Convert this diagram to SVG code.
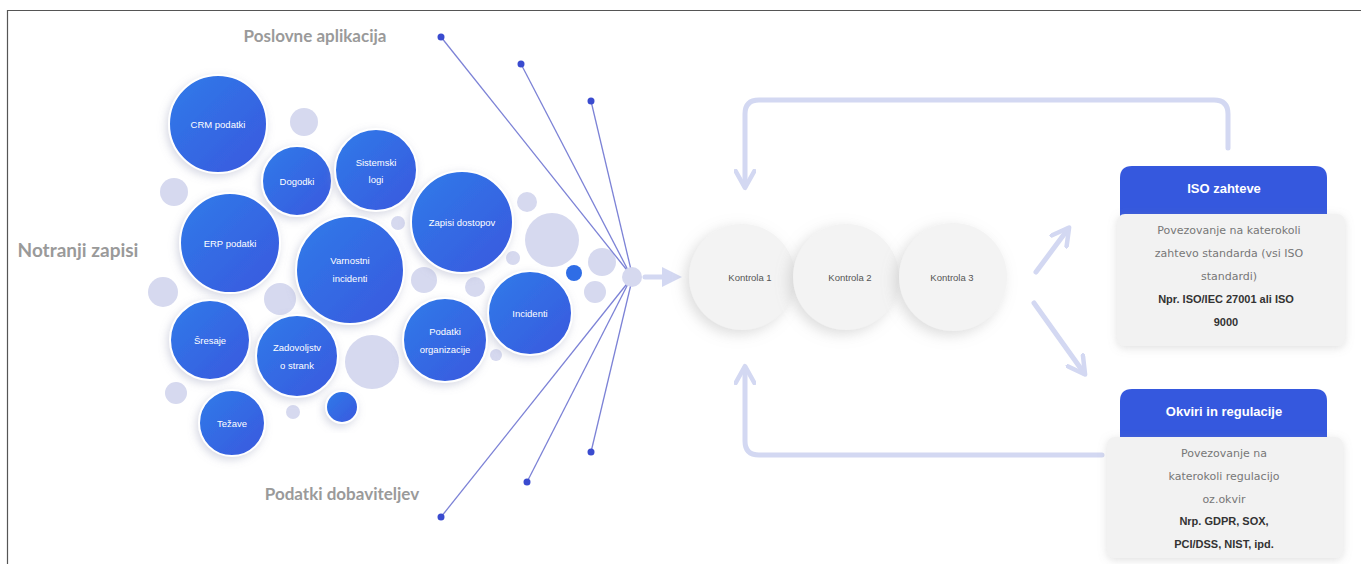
<svg xmlns="http://www.w3.org/2000/svg" width="1361" height="564" viewBox="0 0 1361 564">
<defs>
  <linearGradient id="blueG" x1="0" y1="0" x2="1" y2="1">
    <stop offset="0" stop-color="#2f7be9"/>
    <stop offset="1" stop-color="#3a58de"/>
  </linearGradient>
  <filter id="soft" x="-30%" y="-30%" width="160%" height="160%">
    <feDropShadow dx="-2" dy="3" stdDeviation="4" flood-color="#8a90b0" flood-opacity="0.35"/>
  </filter>
  <filter id="ctrlShadow" x="-40%" y="-40%" width="180%" height="180%">
    <feDropShadow dx="-4" dy="4" stdDeviation="7" flood-color="#9a9a9a" flood-opacity="0.35"/>
  </filter>
  <filter id="boxShadow" x="-20%" y="-20%" width="140%" height="140%">
    <feDropShadow dx="0" dy="2" stdDeviation="4" flood-color="#999" flood-opacity="0.3"/>
  </filter>
  <marker id="arrowL" viewBox="0 0 10 10" refX="5" refY="5" markerWidth="4" markerHeight="4" orient="auto">
    <path d="M0,0 L10,5 L0,10 z" fill="#d3d8f2"/>
  </marker>
  <marker id="chev" viewBox="0 0 12 12" refX="9" refY="6" markerWidth="4.5" markerHeight="4.5" orient="auto">
    <path d="M1,1 L10,6 L1,11" fill="none" stroke="#d3d8f2" stroke-width="2.4" stroke-linecap="round" stroke-linejoin="round"/>
  </marker>
  <style>
    .bub { fill: url(#blueG); stroke: #ffffff; stroke-width: 2; filter: url(#soft); }
    .lite { fill: #d6d9ef; }
    .btxt { font-family: "Liberation Sans", Arial, sans-serif; font-size: 9.5px; fill: #ffffff; text-anchor: middle; }
    .lbl { font-family: Lato, "Liberation Sans", sans-serif; font-weight: bold; fill: #9a9a9a; }
    .ray { stroke: #7c82d6; stroke-width: 1.3; fill: none; }
    .dot { fill: #3a4bcf; }
    .ctrl { fill: #f3f3f3; filter: url(#ctrlShadow); }
    .ctxt { font-family: "Liberation Sans", Arial, sans-serif; font-size: 9.5px; fill: #555; text-anchor: middle; }
    .flow { stroke: #d3d8f2; stroke-width: 5; fill: none; stroke-linecap: round; stroke-linejoin: round; }
    .hdr { fill: #3558de; }
    .body { fill: #f2f2f2; filter: url(#boxShadow); }
    .htxt { font-family: "Liberation Sans", Arial, sans-serif; font-weight: bold; font-size: 13px; fill: #ffffff; text-anchor: middle; }
    .ptxt { font-family: "DejaVu Sans", sans-serif; font-size: 11px; fill: #777777; text-anchor: middle; }
    .ptb { font-family: "Liberation Sans", Arial, sans-serif; font-weight: bold; font-size: 11px; fill: #333333; text-anchor: middle; }
  </style>
</defs>

<rect x="0" y="0" width="1361" height="564" fill="#ffffff"/>
<path d="M7.5,564 L7.5,10.5 L1361,10.5" fill="none" stroke="#555" stroke-width="1.2"/>

<!-- labels -->
<text class="lbl" x="315" y="42" font-size="17" text-anchor="middle">Poslovne aplikacija</text>
<text class="lbl" x="78" y="257" font-size="19" text-anchor="middle">Notranji zapisi</text>
<text class="lbl" x="342" y="500" font-size="17" text-anchor="middle">Podatki dobaviteljev</text>

<!-- light decorative circles -->
<g id="light-circles">
  <circle class="lite" cx="304" cy="122" r="14"/>
  <circle class="lite" cx="174" cy="192" r="14"/>
  <circle class="lite" cx="398" cy="223" r="7"/>
  <circle class="lite" cx="163" cy="292" r="15"/>
  <circle class="lite" cx="280" cy="299" r="16"/>
  <circle class="lite" cx="424" cy="280" r="13"/>
  <circle class="lite" cx="372" cy="362" r="27"/>
  <circle class="lite" cx="176" cy="393" r="11"/>
  <circle class="lite" cx="293" cy="412" r="7"/>
  <circle class="lite" cx="527" cy="202" r="10"/>
  <circle class="lite" cx="552" cy="240" r="27"/>
  <circle class="lite" cx="602" cy="262" r="14"/>
  <circle class="lite" cx="513" cy="258" r="7"/>
  <circle class="lite" cx="475" cy="287" r="10"/>
  <circle class="lite" cx="595" cy="292" r="11"/>
  <circle class="lite" cx="496" cy="355" r="6"/>
</g>

<!-- connectors -->
<g id="connectors">
  <line class="ray" x1="441" y1="37" x2="630" y2="274"/>
  <line class="ray" x1="521" y1="64" x2="630" y2="274"/>
  <line class="ray" x1="591" y1="101" x2="632" y2="274"/>
  <line class="ray" x1="441" y1="517" x2="630" y2="280"/>
  <line class="ray" x1="527" y1="482" x2="630" y2="280"/>
  <line class="ray" x1="591" y1="452" x2="632" y2="280"/>
  <circle class="dot" cx="441" cy="37" r="3.5"/>
  <circle class="dot" cx="521" cy="64" r="3.5"/>
  <circle class="dot" cx="591" cy="101" r="3.5"/>
  <circle class="dot" cx="441" cy="517" r="3.5"/>
  <circle class="dot" cx="527" cy="482" r="3.5"/>
  <circle class="dot" cx="591" cy="452" r="3.5"/>
  <circle class="lite" cx="632" cy="277" r="10"/>
  <line class="flow" x1="645" y1="277" x2="672" y2="277" marker-end="url(#arrowL)"/>
  <line class="flow" x1="1036" y1="272" x2="1068" y2="229" marker-end="url(#chev)"/>
  <line class="flow" x1="1034" y1="303" x2="1084" y2="373" marker-end="url(#chev)"/>
  <path class="flow" d="M1228,148 L1228,114 Q1228,100 1214,100 L759,100 Q745,100 745,114 L745,186" marker-end="url(#chev)"/>
  <path class="flow" d="M1102,455 L759,455 Q745,455 745,441 L745,368" marker-end="url(#chev)"/>
</g>

<!-- blue bubbles -->
<g id="crm"><circle class="bub" cx="218" cy="124" r="49"/><text class="btxt" x="218" y="128">CRM podatki</text></g>
<g id="dogodki"><circle class="bub" cx="297" cy="181" r="35"/><text class="btxt" x="297" y="185">Dogodki</text></g>
<g id="sistemski"><circle class="bub" cx="376" cy="170" r="41"/><text class="btxt" x="376" y="166">Sistemski</text><text class="btxt" x="376" y="183">logi</text></g>
<g id="erp"><circle class="bub" cx="230" cy="243" r="50"/><text class="btxt" x="230" y="247">ERP podatki</text></g>
<g id="varnostni"><circle class="bub" cx="350" cy="270" r="54"/><text class="btxt" x="350" y="264">Varnostni</text><text class="btxt" x="350" y="282">incidenti</text></g>
<g id="zapisi"><circle class="bub" cx="462" cy="222" r="51"/><text class="btxt" x="462" y="226">Zapisi dostopov</text></g>
<g id="incidenti"><circle class="bub" cx="530" cy="313" r="42"/><text class="btxt" x="530" y="317">Incidenti</text></g>
<g id="podatki-org"><circle class="bub" cx="445" cy="340" r="42"/><text class="btxt" x="445" y="335">Podatki</text><text class="btxt" x="445" y="353">organizacije</text></g>
<g id="sresaje"><circle class="bub" cx="210" cy="340" r="40"/><text class="btxt" x="210" y="344">Šresaje</text></g>
<g id="zadovoljstvo"><circle class="bub" cx="297" cy="356" r="41"/><text class="btxt" x="297" y="351">Zadovoljstv</text><text class="btxt" x="297" y="369">o strank</text></g>
<g id="tezave"><circle class="bub" cx="232" cy="423" r="33"/><text class="btxt" x="232" y="427">Težave</text></g>
<g id="small-blue"><circle class="bub" cx="342" cy="407" r="16"/></g>
<g id="tiny-blue"><circle cx="574" cy="273" r="8" fill="#2f6de6"/></g>

<!-- controls -->
<g id="kontrola1"><circle class="ctrl" cx="742" cy="277" r="53"/><text class="ctxt" x="750" y="281">Kontrola 1</text></g>
<g id="kontrola2"><circle class="ctrl" cx="846" cy="277" r="53"/><text class="ctxt" x="850" y="281">Kontrola 2</text></g>
<g id="kontrola3"><circle class="ctrl" cx="953" cy="277" r="54"/><text class="ctxt" x="952" y="281">Kontrola 3</text></g>

<!-- ISO box -->
<g id="iso">
  <path class="hdr" d="M1120,225 L1120,178 Q1120,166 1132,166 L1315,166 Q1327,166 1327,178 L1327,225 z"/>
  <text class="htxt" x="1224" y="193">ISO zahteve</text>
  <rect class="body" x="1117" y="214" width="228" height="132" rx="8"/>
  <text class="ptxt" x="1229" y="234">Povezovanje na katerokoli</text>
  <text class="ptxt" x="1229" y="257">zahtevo standarda (vsi ISO</text>
  <text class="ptxt" x="1229" y="280">standardi)</text>
  <text class="ptb" x="1226" y="303">Npr. ISO/IEC 27001 ali ISO</text>
  <text class="ptb" x="1226" y="326">9000</text>
</g>

<!-- Okviri box -->
<g id="okviri">
  <path class="hdr" d="M1120,445 L1120,401 Q1120,389 1132,389 L1315,389 Q1327,389 1327,401 L1327,445 z"/>
  <text class="htxt" x="1224" y="416">Okviri in regulacije</text>
  <rect class="body" x="1107" y="437" width="236" height="121" rx="8"/>
  <text class="ptxt" x="1224" y="457">Povezovanje na</text>
  <text class="ptxt" x="1224" y="480">katerokoli regulacijo</text>
  <text class="ptxt" x="1224" y="503">oz.okvir</text>
  <text class="ptb" x="1224" y="525">Nrp. GDPR, SOX,</text>
  <text class="ptb" x="1224" y="548">PCI/DSS, NIST, ipd.</text>
</g>
</svg>
